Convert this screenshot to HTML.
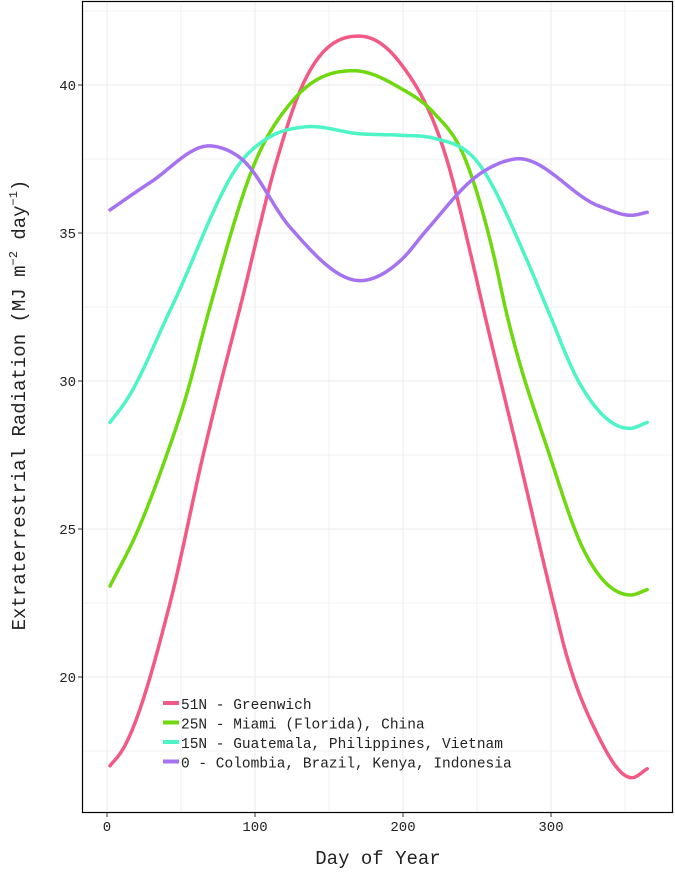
<!DOCTYPE html>
<html><head><meta charset="utf-8"><style>
body{margin:0;background:#fff;}
svg text{font-family:"Liberation Mono",monospace;fill:#222;}
</style></head><body>
<svg id="chart" width="675" height="870" xmlns="http://www.w3.org/2000/svg">
<g id="grid"></g>
<g id="series"></g>
<rect x="82.5" y="1.5" width="590" height="811" fill="none" stroke="#000" stroke-width="1.2"/>
<g id="axes"></g>
<text x="378" y="864" font-size="19" text-anchor="middle">Day of Year</text>
<text transform="translate(25,405) rotate(-90)" font-size="19" text-anchor="middle">Extraterrestrial Radiation (MJ m<tspan font-size="12" dy="-8">−2</tspan><tspan dy="8"> day</tspan><tspan font-size="12" dy="-8">−1</tspan><tspan dy="8">)</tspan></text>
<g id="legend"></g>
</svg>
<script>
const d51=[2,10,42.6,65,74,90,115,128,171,198,229.5,246.6,254,278,301.6,309.6,330,355,365];
const s51=[17.0,17.5,22.5,27.5,29.36,32.5,37.5,39.5,41.65,40.75,37.5,34.1,32.5,27.5,22.5,20.9,18.2,16.6,16.9];
const d25=[2,20,40.3,52.7,69.6,101,126,167.6,198,220,242,262,269,299,322,353.4,365];
const s25=[23.07,24.86,27.5,29.36,32.5,37.5,39.5,40.48,39.9,39.1,37.5,34.1,32.5,27.5,24.3,22.77,22.95];
const d15=[2,13.3,43.7,92,112,132.7,171,199,221,248.6,283.6,297,319.6,353.4,365];
const s15=[28.6,29.36,32.5,37.5,38.3,38.58,38.35,38.3,38.2,37.5,34.1,32.5,29.9,28.4,28.6];
const d0=[2,29,70.7,91,123.6,174,199,216,252,275.7,333,355,365];
const s0=[35.78,36.7,37.94,37.5,35.2,33.4,34.1,35.1,37.0,37.5,35.9,35.6,35.7];
const xTicks=[0,100,200,300];
const yTicks=[20,25,30,35,40];
const names=["51N - Greenwich","25N - Miami (Florida), China","15N - Guatemala, Philippines, Vietnam","0 - Colombia, Brazil, Kenya, Indonesia"];
const colors=["#f25a85","#6fd80f","#4df5c6","#a572f0"];
const X=d=>107+d*1.48;
const Y=v=>85+(40-v)*29.6;
const NS="http://www.w3.org/2000/svg";
function mk(t,a,p){const e=document.createElementNS(NS,t);for(const k in a)e.setAttribute(k,a[k]);p.appendChild(e);return e;}
const grid=document.getElementById('grid'),axes=document.getElementById('axes');
[50,150,250,350].forEach(d=>{const l=mk('line',{x1:X(d),x2:X(d),y1:2,y2:812,stroke:'#f0f0f0'},grid);

});
xTicks.forEach(d=>{const l=mk('line',{x1:X(d),x2:X(d),y1:2,y2:812,stroke:'#ebebeb'},grid);


const t=mk('line',{x1:X(d),x2:X(d),y1:813,y2:817,stroke:'#333'},axes);


const tx=mk('text',{x:X(d),y:831,'font-size':14,'text-anchor':'middle'},axes);tx.textContent=d;

});
[17.5,22.5,27.5,32.5,37.5,42.5].forEach(v=>{const l=mk('line',{x1:83,x2:672,y1:Y(v),y2:Y(v),stroke:'#f0f0f0'},grid);

});
yTicks.forEach(v=>{const l=mk('line',{x1:83,x2:672,y1:Y(v),y2:Y(v),stroke:'#ebebeb'},grid);


const t=mk('line',{x1:78,x2:82,y1:Y(v),y2:Y(v),stroke:'#333'},axes);


const tx=mk('text',{x:76,y:Y(v)+5,'font-size':14,'text-anchor':'end'},axes);tx.textContent=v;

});
function herm(xs,ys){const n=xs.length,dl=[],m=[];
for(let i=0;i<n-1;i++)dl[i]=(ys[i+1]-ys[i])/(xs[i+1]-xs[i]);
m[0]=dl[0];m[n-1]=dl[n-2];
for(let i=1;i<n-1;i++){const h0=xs[i]-xs[i-1],h1=xs[i+1]-xs[i];m[i]=(dl[i-1]*h1+dl[i]*h0)/(h0+h1);}
return t=>{let i=0;while(i<n-2&&t>xs[i+1])i++;const h=xs[i+1]-xs[i],s=(t-xs[i])/h,s2=s*s,s3=s2*s;
return (2*s3-3*s2+1)*ys[i]+(s3-2*s2+s)*h*m[i]+(-2*s3+3*s2)*ys[i+1]+(s3-s2)*h*m[i+1];};}
function path(xs,ys){const f=herm(xs,ys);let s='';const a=xs[0],b=xs[xs.length-1];for(let t=a;t<=b+1e-9;t+=0.5){s+=(s?' L':'M')+X(t).toFixed(1)+','+Y(f(t)).toFixed(1);}return s;}
const ser=document.getElementById('series');
const sets=[[d51,s51],[d25,s25],[d15,s15],[d0,s0]];
const sn=['series-51n','series-25n','series-15n','series-0'];
sets.forEach((s,i)=>{const e=mk('path',{d:path(s[0],s[1]),fill:'none',stroke:colors[i],'stroke-width':3.5,'stroke-linecap':'round','stroke-linejoin':'round'},ser);

});
const lg=document.getElementById('legend');
names.forEach((n,i)=>{const y=704+i*19.5;
const g=mk('g',{},lg);


mk('rect',{x:163,y:y-3,width:16,height:4,fill:colors[i]},g);
const t=mk('text',{x:181,y:y+5,'font-size':14.5},g);t.textContent=n;});
</script>
</body></html>
